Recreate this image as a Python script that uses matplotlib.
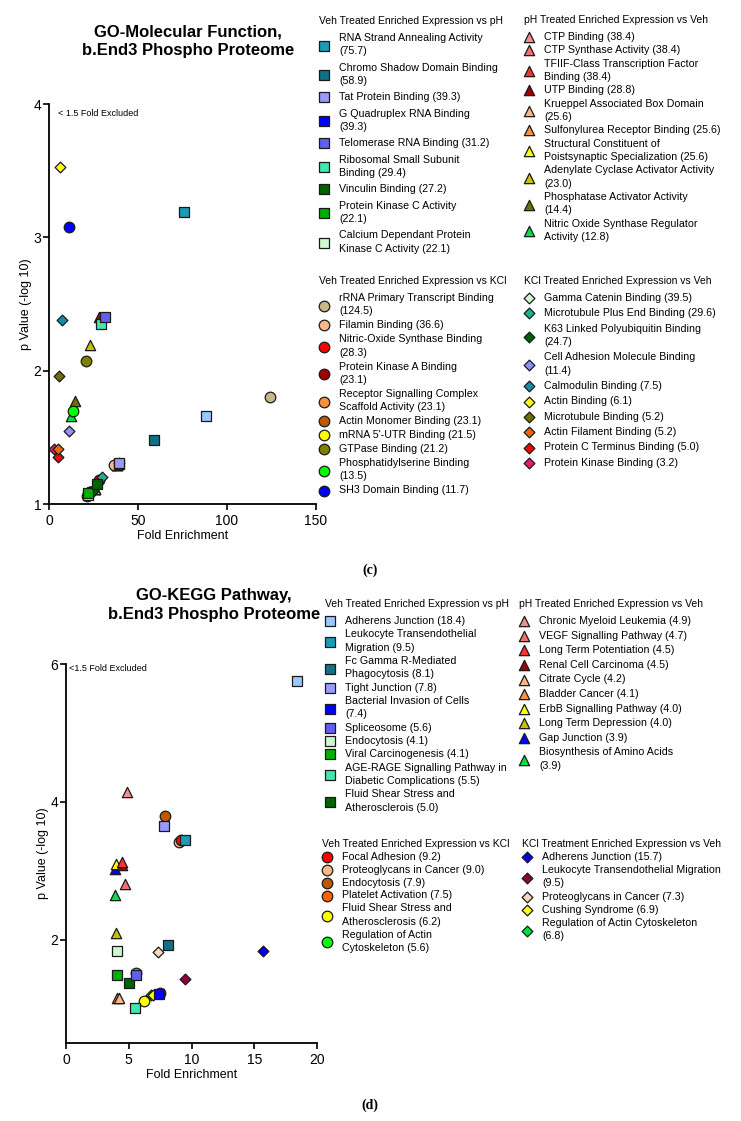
"""
GO Molecular Function / KEGG pathway enrichment scatter plots
for the b.End3 phospho proteome, panels (c) and (d).
"""

import matplotlib
matplotlib.use("Agg")
import matplotlib.pyplot as plt

plt.rcParams["font.family"] = ["Liberation Sans", "DejaVu Sans"]

# ---------------- panel (c): GO molecular function ----------------
c_vph_labels = ["RNA Strand Annealing Activity\n(75.7)", "Chromo Shadow Domain Binding\n(58.9)",
                "Tat Protein Binding (39.3)", "G Quadruplex RNA Binding\n(39.3)",
                "Telomerase RNA Binding (31.2)", "Ribosomal Small Subunit\nBinding (29.4)",
                "Vinculin Binding (27.2)", "Protein Kinase C Activity\n(22.1)",
                "Calcium Dependant Protein\nKinase C Activity (22.1)"]
c_vph_x = [75.7, 58.9, 39.3, 39.3, 31.2, 29.4, 27.2, 22.1, 22.1]
c_vph_y = [3.19, 1.48, 1.31, 1.30, 2.40, 2.35, 1.15, 1.08, 1.07]
c_vph_colors = ["#1c9cb4", "#0e7386", "#9999ff", "#0000ff", "#6060f0",
                "#40e8b0", "#006400", "#00b000", "#d0f8d0"]
# unlabelled square present in the plot only
c_extra_x = [88.3]
c_extra_y = [1.66]
c_extra_colors = ["#99c8ff"]

c_phv_labels = ["CTP Binding (38.4)", "CTP Synthase Activity (38.4)",
                "TFIIF-Class Transcription Factor\nBinding (38.4)", "UTP Binding (28.8)",
                "Krueppel Associated Box Domain\n(25.6)", "Sulfonylurea Receptor Binding (25.6)",
                "Structural Constituent of\nPoistsynaptic Specialization (25.6)",
                "Adenylate Cyclase Activator Activity\n(23.0)",
                "Phosphatase Activator Activity\n(14.4)",
                "Nitric Oxide Synthase Regulator\nActivity (12.8)"]
c_phv_x = [38.4, 38.4, 38.4, 28.2, 25.6, 25.6, 25.6, 22.9, 14.5, 12.6]
c_phv_y = [1.29, 1.29, 1.29, 2.40, 1.11, 1.11, 1.11, 2.19, 1.77, 1.66]
c_phv_colors = ["#f09090", "#f07070", "#ff3030", "#a00000", "#f8b888",
                "#f89040", "#ffff00", "#c8c000", "#707000", "#00e040"]

c_vk_labels = ["rRNA Primary Transcript Binding\n(124.5)", "Filamin Binding (36.6)",
               "Nitric-Oxide Synthase Binding\n(28.3)", "Protein Kinase A Binding\n(23.1)",
               "Receptor Signalling Complex\nScaffold Activity (23.1)",
               "Actin Monomer Binding (23.1)", "mRNA 5'-UTR Binding (21.5)",
               "GTPase Binding (21.2)", "Phosphatidylserine Binding\n(13.5)",
               "SH3 Domain Binding (11.7)"]
c_vk_x = [124.4, 36.3, 28.2, 23.1, 23.1, 23.1, 21.5, 21.0, 13.5, 11.5]
c_vk_y = [1.80, 1.29, 1.18, 1.09, 1.09, 1.09, 1.06, 2.07, 1.70, 3.08]
c_vk_colors = ["#c8b888", "#f8b888", "#ff0000", "#a00000", "#f89040",
               "#c05800", "#ffff00", "#808000", "#00ff00", "#0000ff"]

c_kv_labels = ["Gamma Catenin Binding (39.5)", "Microtubule Plus End Binding (29.6)",
               "K63 Linked Polyubiquitin Binding\n(24.7)",
               "Cell Adhesion Molecule Binding\n(11.4)", "Calmodulin Binding (7.5)",
               "Actin Binding (6.1)", "Microtubule Binding (5.2)",
               "Actin Filament Binding (5.2)", "Protein C Terminus Binding (5.0)",
               "Protein Kinase Binding (3.2)"]
c_kv_x = [39.5, 29.7, 24.7, 11.3, 7.3, 6.0, 5.4, 5.3, 4.9, 3.0]
c_kv_y = [1.31, 1.20, 1.10, 1.55, 2.38, 3.53, 1.96, 1.41, 1.35, 1.41]
c_kv_colors = ["#d0f8d0", "#20b090", "#006000", "#9090f0", "#1090a8",
               "#ffff00", "#707000", "#ff6000", "#ff0000", "#e0206a"]

# ---------------- panel (d): KEGG pathway ----------------
d_vph_labels = ["Adherens Junction (18.4)", "Leukocyte Transendothelial\nMigration (9.5)",
                "Fc Gamma R-Mediated\nPhagocytosis (8.1)", "Tight Junction (7.8)",
                "Bacterial Invasion of Cells\n(7.4)", "Spliceosome (5.6)",
                "Endocytosis (4.1)", "Viral Carcinogenesis (4.1)",
                "AGE-RAGE Signalling Pathway in\nDiabetic Complications (5.5)",
                "Fluid Shear Stress and\nAtherosclerois (5.0)"]
d_vph_x = [18.4, 9.5, 8.1, 7.8, 7.4, 5.6, 4.1, 4.1, 5.5, 5.0]
d_vph_y = [5.76, 3.44, 1.92, 3.65, 1.21, 1.48, 1.84, 1.49, 1.01, 1.37]
d_vph_colors = ["#99c8ff", "#1c9cb4", "#0e7386", "#9999ff", "#0000ff",
                "#6060f0", "#d0f8d0", "#00b000", "#40e8b0", "#006400"]

d_phv_labels = ["Chronic Myeloid Leukemia (4.9)", "VEGF Signalling Pathway (4.7)",
                "Long Term Potentiation (4.5)", "Renal Cell Carcinoma (4.5)",
                "Citrate Cycle (4.2)", "Bladder Cancer (4.1)",
                "ErbB Signalling Pathway (4.0)", "Long Term Depression (4.0)",
                "Gap Junction (3.9)", "Biosynthesis of Amino Acids\n(3.9)"]
d_phv_x = [4.9, 4.7, 4.5, 4.5, 4.2, 4.1, 4.0, 4.0, 3.9, 3.9]
d_phv_y = [4.14, 2.81, 3.12, 3.08, 1.16, 1.16, 3.10, 2.09, 3.03, 2.65]
d_phv_colors = ["#f09090", "#f07070", "#ff3030", "#a00000", "#f8b888",
                "#f89040", "#ffff00", "#c8c000", "#0000ff", "#00e040"]

d_vk_labels = ["Focal Adhesion (9.2)", "Proteoglycans in Cancer (9.0)",
               "Endocytosis (7.9)", "Platelet Activation (7.5)",
               "Fluid Shear Stress and\nAtherosclerosis (6.2)",
               "Regulation of Actin\nCytoskeleton (5.6)"]
d_vk_x = [9.2, 9.0, 7.9, 7.5, 6.2, 5.6]
d_vk_y = [3.45, 3.41, 3.79, 1.23, 1.11, 1.51]
d_vk_colors = ["#ff0000", "#f8b888", "#c05800", "#ff6000", "#ffff00", "#00ff00"]

d_kv_labels = ["Adherens Junction (15.7)", "Leukocyte Transendothelial Migration\n(9.5)",
               "Proteoglycans in Cancer (7.3)", "Cushing Syndrome (6.9)",
               "Regulation of Actin Cytoskeleton\n(6.8)"]
d_kv_x = [15.7, 9.5, 7.3, 6.9, 6.8]
d_kv_y = [1.84, 1.43, 1.82, 1.19, 1.19]
d_kv_colors = ["#0000e0", "#900040", "#f8d8b8", "#ffff00", "#00e040"]

W, H = 741, 1121
EDGE = "#1a1a1a"
SIZES = {"s": 55, "o": 58, "^": 55, "D": 30}


def draw_group(ax, xs, ys, colors, marker, labels=None, z=3):
    # earlier entries sit on top, later ones underneath
    handles = [None] * len(xs)
    for i in reversed(range(len(xs))):
        lab = labels[i] if labels else "_nolegend_"
        handles[i] = ax.scatter([xs[i]], [ys[i]], s=SIZES[marker], marker=marker,
                                c=colors[i], edgecolors=EDGE, linewidths=0.9,
                                zorder=z, label=lab, clip_on=False)
    return handles


def add_legend(fig, handles, labels, title, x_px, y_px, spacing, sep=5):
    leg = fig.legend(handles, labels, title=title, loc="upper left",
                     bbox_to_anchor=(x_px / W, 1 - y_px / H), frameon=False,
                     fontsize=7.7, title_fontsize=7.5, borderpad=0, borderaxespad=0,
                     handlelength=1.0, handletextpad=0.9, labelspacing=spacing,
                     scatterpoints=1, alignment="left")
    for t in leg.get_texts():
        t.set_linespacing(1.42)
    leg._legend_box.sep = sep
    return leg


def style_axes(ax):
    for side in ("top", "right"):
        ax.spines[side].set_visible(False)
    for side in ("left", "bottom"):
        ax.spines[side].set_linewidth(1.3)
    ax.tick_params(direction="out", length=4, width=1.2, labelsize=10)
    ax.tick_params(axis="y", pad=1.5)
    ax.set_xlabel("Fold Enrichment", fontsize=9, labelpad=1)
    ax.set_ylabel("p Value (-log 10)", fontsize=9, labelpad=1)


fig = plt.figure(figsize=(W / 100, H / 100), dpi=100)

# panel c
axc = fig.add_axes([49 / W, 1 - 504 / H, 267 / W, 400 / H])
style_axes(axc)
axc.set_xlim(0, 150)
axc.set_ylim(1, 4)
axc.set_xticks([0, 50, 100, 150])
axc.set_yticks([1, 2, 3, 4])
h_c_phv = draw_group(axc, c_phv_x, c_phv_y, c_phv_colors, "^", c_phv_labels, 3)
h_c_vk = draw_group(axc, c_vk_x, c_vk_y, c_vk_colors, "o", c_vk_labels, 4)
h_c_kv = draw_group(axc, c_kv_x, c_kv_y, c_kv_colors, "D", c_kv_labels, 5)
h_c_vph = draw_group(axc, c_vph_x, c_vph_y, c_vph_colors, "s", c_vph_labels, 6)
draw_group(axc, c_extra_x, c_extra_y, c_extra_colors, "s", None, 6)
axc.text(0.035, 0.975, "< 1.5 Fold Excluded", transform=axc.transAxes,
         fontsize=6.5, va="center")
fig.text(188 / W, 1 - 41 / H, "GO-Molecular Function,\nb.End3 Phospho Proteome",
         ha="center", va="center", fontsize=12, fontweight="bold", linespacing=1.3)

add_legend(fig, h_c_vph, c_vph_labels, "Veh Treated Enriched Expression vs pH", 319, 16, 0.59)
add_legend(fig, h_c_phv, c_phv_labels, "pH Treated Enriched Expression vs Veh", 524, 15, 0.31)
add_legend(fig, h_c_vk, c_vk_labels, "Veh Treated Enriched Expression vs KCl", 319, 276, 0.37)
add_legend(fig, h_c_kv, c_kv_labels, "KCl Treated Enriched Expression vs Veh", 524, 276, 0.50)
fig.text(370 / W, 1 - 570 / H, "(c)", ha="center", va="center", fontsize=10,
         fontweight="bold", family=["Liberation Serif", "DejaVu Serif"])

# panel d
axd = fig.add_axes([66 / W, 1 - 1043 / H, 251 / W, 379 / H])
style_axes(axd)
axd.set_xlim(0, 20)
axd.set_ylim(0.5, 6)
axd.set_xticks([0, 5, 10, 15, 20])
axd.set_yticks([2, 4, 6])
h_d_phv = draw_group(axd, d_phv_x, d_phv_y, d_phv_colors, "^", d_phv_labels, 3)
h_d_vk = draw_group(axd, d_vk_x, d_vk_y, d_vk_colors, "o", d_vk_labels, 4)
h_d_kv = draw_group(axd, d_kv_x, d_kv_y, d_kv_colors, "D", d_kv_labels, 5)
h_d_vph = draw_group(axd, d_vph_x, d_vph_y, d_vph_colors, "s", d_vph_labels, 6)
axd.text(0.01, 0.987, "<1.5 Fold Excluded", transform=axd.transAxes,
         fontsize=6.5, va="center")
fig.text(214 / W, 1 - 605 / H, "GO-KEGG Pathway,\nb.End3 Phospho Proteome",
         ha="center", va="center", fontsize=12, fontweight="bold", linespacing=1.3)

add_legend(fig, h_d_vph, d_vph_labels, "Veh Treated Enriched Expression vs pH", 325, 599, 0.31)
add_legend(fig, h_d_phv, d_phv_labels, "pH Treated Enriched Expression vs Veh", 519, 599, 0.43)
add_legend(fig, h_d_vk, d_vk_labels, "Veh Treated Enriched Expression vs KCl", 322, 839, 0.27, sep=2)
add_legend(fig, h_d_kv, d_kv_labels, "KCl Treatment Enriched Expression vs Veh", 522, 839, 0.3, sep=2)
fig.text(370 / W, 1 - 1105 / H, "(d)", ha="center", va="center", fontsize=10,
         fontweight="bold", family=["Liberation Serif", "DejaVu Serif"])

fig.savefig("out.png", dpi=100)
